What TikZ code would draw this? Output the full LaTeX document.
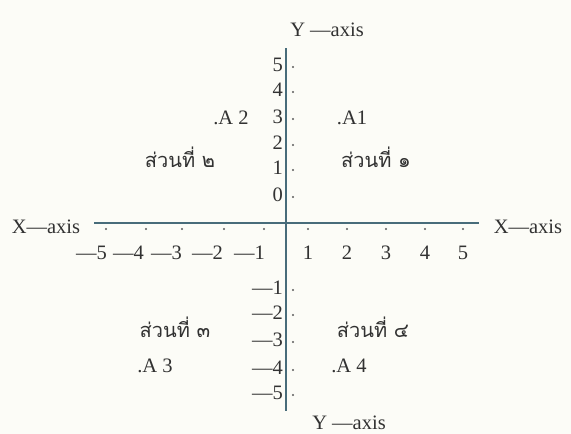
\documentclass[tikz,border=0pt]{standalone}
\usepackage{fontspec}
\setmainfont{Liberation Serif}
\newfontfamily\thaifont[Script=Thai]{Loma}
\usetikzlibrary{positioning}
\definecolor{axisteal}{RGB}{72,108,122}
\definecolor{inkgray}{RGB}{50,50,50}
\definecolor{paper}{RGB}{252,252,247}
\tikzset{
    axisline/.style={
           draw=axisteal,
           line width=1.7pt,
           },
    lbl/.style={
           inner sep=1pt,
           text=inkgray,
           font=\fontsize{20.5}{22}\selectfont,
           },
    thailbl/.style={
           inner sep=1pt,
           text=inkgray,
           font=\thaifont\fontsize{20}{22}\selectfont,
           },
    tickdot/.style={
           circle, fill=inkgray!80,
           inner sep=0pt, minimum size=2.4pt,
           },
}

\begin{document}
\begin{tikzpicture}[x=1pt, y=-1pt]
\fill[paper] (0,0) rectangle (571,434);
\useasboundingbox (0,0) rectangle (571,434);
% axes
\coordinate (ytop) at (286,48);
\coordinate (ybot) at (286,411);
\coordinate (xleft) at (94,223);
\coordinate (xright) at (479,223);
\draw[axisline] (xleft) -- (xright);
\draw[axisline] (ytop) -- (ybot);
\node[lbl] (ytoplbl) at (327,30) {Y —axis};
\node[lbl] (ybotlbl) at (349,423) {Y —axis};
\node[lbl] (xleftlbl) at (46,227) {X—axis};
\node[lbl] (xrightlbl) at (528,227) {X—axis};
% x ticks and numbers
\foreach \xp/\n in {308/1, 347/2, 386/3, 425/4, 463/5}{
  \node[tickdot] (xd\n) at (\xp,229) {};
  \node[lbl] (xn\n) at (\xp,253) {\n};
}
\foreach \xp/\xe/\n in {106/108/5, 146/145/4, 182/183/3, 224/224/2, 264/266/1}{
  \node[tickdot] (xdm\n) at (\xp,229) {};
  \node[lbl, anchor=east] (xnm\n) at (\xe,253) {—\n};
}
% y ticks and numbers
\foreach \yp/\n in {65/5, 90/4, 117/3, 143/2, 168/1, 195/0}{
  \node[tickdot] (yd\n) at (293,\yp+2) {};
  \node[lbl, anchor=east] (yn\n) at (284,\yp) {\n};
}
\foreach \yp/\n in {288/1, 313/2, 340/3, 368/4, 393/5}{
  \node[tickdot] (ydm\n) at (293,\yp+2) {};
  \node[lbl, anchor=east] (ynm\n) at (284,\yp) {—\n};
}
% points and quadrants
\node[lbl] (a1) at (352,118) {.A1};
\node[lbl] (a2) at (231,118) {.A 2};
\node[lbl] (a3) at (155,366) {.A 3};
\node[lbl] (a4) at (349,366) {.A 4};
\node[thailbl] (q1) at (376,157) {ส่วนที่ ๑};
\node[thailbl] (q2) at (180,157) {ส่วนที่ ๒};
\node[thailbl] (q3) at (175,327) {ส่วนที่ ๓};
\node[thailbl] (q4) at (373,327) {ส่วนที่ ๔};
\end{tikzpicture}
\end{document}
